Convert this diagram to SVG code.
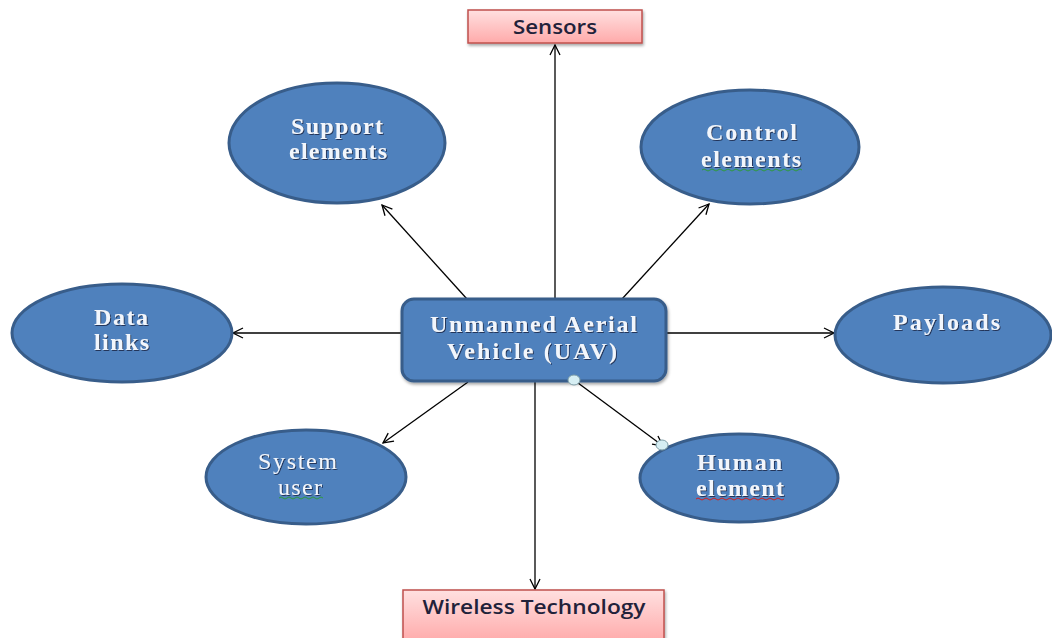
<svg xmlns="http://www.w3.org/2000/svg" width="1052" height="638" viewBox="0 0 1052 638">
  <defs>
    <linearGradient id="pink" x1="0" y1="0" x2="0" y2="1">
      <stop offset="0" stop-color="#ffe0e0"/>
      <stop offset="1" stop-color="#ffaaaa"/>
    </linearGradient>
    <filter id="shade" x="-10%" y="-10%" width="120%" height="130%">
      <feDropShadow dx="1" dy="2" stdDeviation="1.5" flood-color="#000" flood-opacity="0.35"/>
    </filter>
    <filter id="glow" x="-10%" y="-20%" width="120%" height="140%">
      <feDropShadow dx="1" dy="1" stdDeviation="0.6" flood-color="#1a2f4f" flood-opacity="0.9"/>
    </filter>
    <marker id="arrow" viewBox="0 0 12 12" refX="11" refY="6" markerWidth="12" markerHeight="12" markerUnits="userSpaceOnUse" orient="auto">
      <path d="M1,1 L11,6 L1,11" fill="none" stroke="#000" stroke-width="1.3"/>
    </marker>
    <style>
      .blob { fill: #4f81bd; stroke: #385d8a; stroke-width: 3; }
      .tag { fill: url(#pink); stroke: #c0504d; stroke-width: 1.5; filter: url(#shade); }
      .lbl { font-family: "Liberation Serif", "Times New Roman", serif; font-size: 24px; font-weight: bold; fill: #f2f6fc; text-anchor: middle; filter: url(#glow); }
      .lbl.plain { font-weight: normal; }
      .tagtext { font-family: "Open Sans", "Liberation Sans", sans-serif; font-size: 19px; font-weight: 600; fill: #22223a; text-anchor: middle; }
      .wire { stroke: #000; stroke-width: 1.3; fill: none; marker-end: url(#arrow); }
      .handle { fill: #d6eef3; stroke: #7f9fa8; stroke-width: 1; }
      .squig-g { stroke: #2e9b3e; stroke-width: 1; fill: none; }
      .squig-r { stroke: #d62020; stroke-width: 1; fill: none; }
    </style>
  </defs>

  <!-- connectors from the central vehicle node -->
  <g id="connectors">
    <line class="wire" x1="555" y1="299" x2="555" y2="45"/>
    <line class="wire" x1="535" y1="381" x2="535" y2="589"/>
    <line class="wire" x1="467" y1="299" x2="382" y2="205"/>
    <line class="wire" x1="622" y1="299" x2="709" y2="204"/>
    <line class="wire" x1="402" y1="333" x2="233" y2="333"/>
    <line class="wire" x1="666" y1="333" x2="834" y2="333"/>
    <line class="wire" x1="468" y1="382" x2="383" y2="443"/>
    <line class="wire" x1="574" y1="380" x2="663" y2="446"/>
  </g>

  <g id="sensors">
    <rect class="tag" x="468" y="10" width="174" height="33"/>
    <text class="tagtext" x="555" y="34" textLength="84" lengthAdjust="spacingAndGlyphs">Sensors</text>
  </g>

  <g id="wireless">
    <rect class="tag" x="403" y="590" width="261" height="52"/>
    <text class="tagtext" x="534" y="614" textLength="223" lengthAdjust="spacingAndGlyphs">Wireless Technology</text>
  </g>

  <g id="uav">
    <rect class="blob" x="402" y="299" width="264" height="82" rx="12" ry="12" filter="url(#shade)"/>
    <text class="lbl" x="533.5" y="332" textLength="207" lengthAdjust="spacing">Unmanned Aerial</text>
    <text class="lbl" x="532" y="359" textLength="170" lengthAdjust="spacing">Vehicle (UAV)</text>
  </g>

  <g id="support">
    <ellipse class="blob" cx="337" cy="143" rx="108" ry="60"/>
    <text class="lbl" x="337" y="134" textLength="92" lengthAdjust="spacing">Support</text>
    <text class="lbl" x="338" y="159" textLength="98" lengthAdjust="spacing">elements</text>
  </g>

  <g id="control">
    <ellipse class="blob" cx="750" cy="147" rx="109" ry="57"/>
    <text class="lbl" x="751.5" y="140" textLength="91" lengthAdjust="spacing">Control</text>
    <text class="lbl" x="751" y="167" textLength="100" lengthAdjust="spacing">elements</text>
    <path class="squig-g" d="M702,170 q2,-2 4,0 t4,0 t4,0 t4,0 t4,0 t4,0 t4,0 t4,0 t4,0 t4,0 t4,0 t4,0 t4,0 t4,0 t4,0 t4,0 t4,0 t4,0 t4,0 t4,0 t4,0 t4,0 t4,0 t4,0 t4,0"/>
  </g>

  <g id="datalinks">
    <ellipse class="blob" cx="122" cy="333" rx="110" ry="49"/>
    <text class="lbl" x="121" y="325" textLength="54" lengthAdjust="spacing">Data</text>
    <text class="lbl" x="121.5" y="350" textLength="55" lengthAdjust="spacing">links</text>
  </g>

  <g id="payloads">
    <ellipse class="blob" cx="943" cy="335" rx="108" ry="48"/>
    <text class="lbl" x="946.5" y="330" textLength="107" lengthAdjust="spacing">Payloads</text>
  </g>

  <g id="systemuser">
    <ellipse class="blob" cx="306" cy="477" rx="100" ry="47"/>
    <text class="lbl plain" x="297.5" y="469" textLength="79" lengthAdjust="spacing">System</text>
    <text class="lbl plain" x="300" y="495" textLength="44" lengthAdjust="spacing">user</text>
    <path class="squig-g" d="M279,498 q2,-2 4,0 t4,0 t4,0 t4,0 t4,0 t4,0 t4,0 t4,0 t4,0 t4,0 t4,0"/>
  </g>

  <g id="human">
    <ellipse class="blob" cx="739" cy="478" rx="99" ry="44"/>
    <text class="lbl" x="739.5" y="470" textLength="85" lengthAdjust="spacing">Human</text>
    <text class="lbl" x="740" y="496" textLength="88" lengthAdjust="spacing">element</text>
    <path class="squig-r" d="M696,499 q2,-2 4,0 t4,0 t4,0 t4,0 t4,0 t4,0 t4,0 t4,0 t4,0 t4,0 t4,0 t4,0 t4,0 t4,0 t4,0 t4,0 t4,0 t4,0 t4,0 t4,0 t4,0 t4,0"/>
  </g>

  <!-- connector end handles -->
  <g id="handles">
    <ellipse class="handle" cx="574" cy="380" rx="6" ry="5"/>
    <ellipse class="handle" cx="662" cy="445" rx="6" ry="5"/>
  </g>
</svg>
